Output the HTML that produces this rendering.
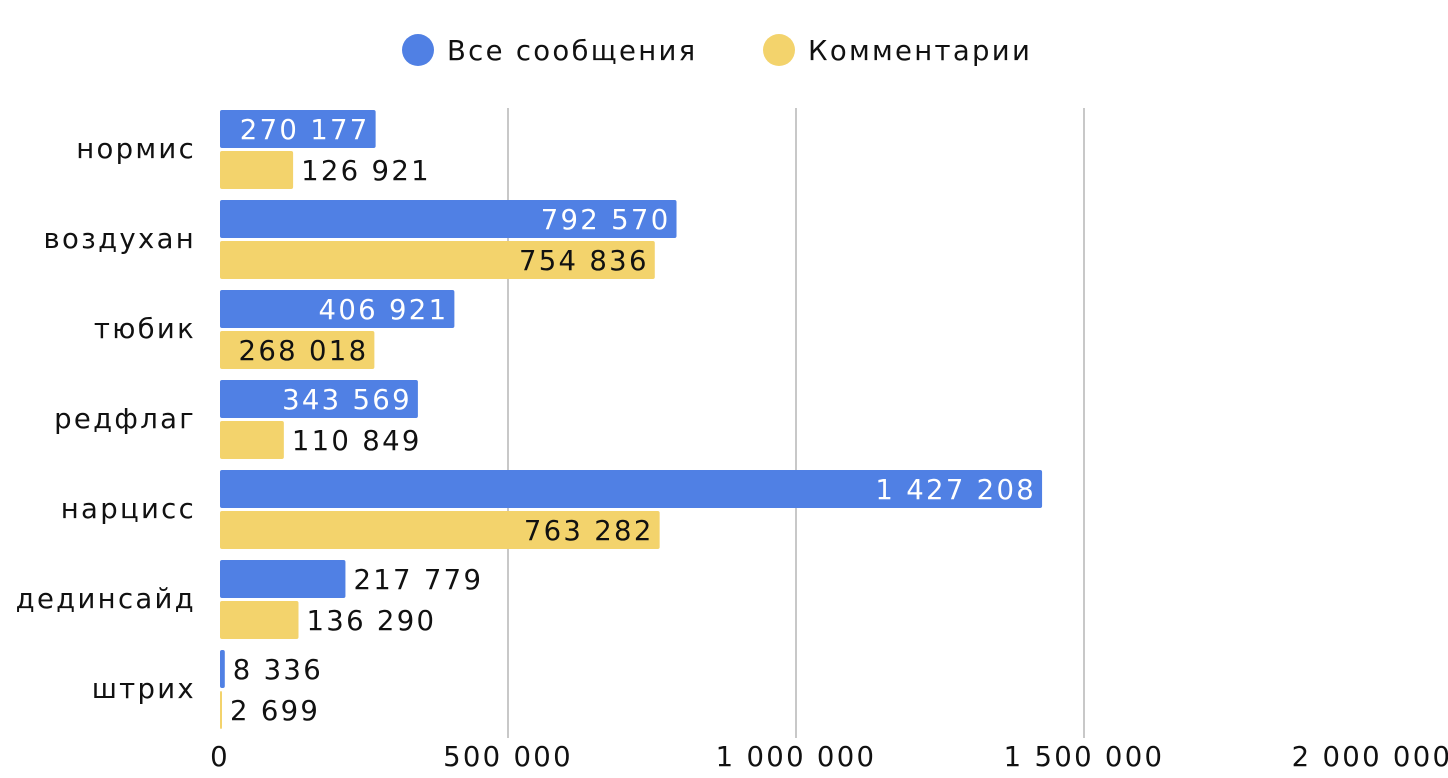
<!DOCTYPE html>
<html><head><meta charset="utf-8"><style>
body{margin:0;background:#fff;}
svg{display:block;font-family:"DejaVu Sans","Liberation Sans",sans-serif;}
svg text{letter-spacing:2.3px;}
</style></head><body>
<svg id="chart" width="1448" height="778"></svg>
<script>
const categories=["нормис","воздухан","тюбик","редфлаг","нарцисс","дединсайд","штрих"];
const allMessages=[270177,792570,406921,343569,1427208,217779,8336];
const comments=[126921,754836,268018,110849,763282,136290,2699];
const ticks=[0,500000,1000000,1500000,2000000];
const tickLabels=["0","500 000","1 000 000","1 500 000","2 000 000"];
const seriesNames=["Все сообщения","Комментарии"];
const colors=["#5080e4","#f3d36c"];
const NS="http://www.w3.org/2000/svg";
const svg=document.getElementById('chart');
const x0=220,pxPer=288/500000,top0=110,pitch=90,bh=38,gap=3;
const xs=v=>x0+v*pxPer;
const FS=27.5, LS=2.3;
function el(t,a,txt){const e=document.createElementNS(NS,t);for(const k in a)e.setAttribute(k,a[k]);if(txt!==undefined)e.textContent=txt;svg.appendChild(e);return e;}
function fmt(v){return String(v).replace(/\B(?=(\d{3})+(?!\d))/g," ");}
ticks.forEach((t,i)=>{
 if(t>0&&t<2000000){const g=el('line',{x1:xs(t),x2:xs(t),y1:108,y2:738,stroke:'#c8c8c8','stroke-width':2});
 
 }
 const l=el('text',{x:xs(t),y:766,'text-anchor':'middle','font-size':FS,fill:'#111'},tickLabels[i]);
 
 
});
[[418,447],[779,808]].forEach((p,i)=>{
 const c=el('circle',{cx:p[0],cy:50,r:16,fill:colors[i]});
 
 
 const t=el('text',{x:p[1],y:60,'font-size':FS,fill:'#111'},seriesNames[i]);
 
 
});
const ctx=document.createElement('canvas').getContext('2d');
ctx.font=FS+'px "DejaVu Sans"';
categories.forEach((c,i)=>{
 const gy=top0+i*pitch;
 const cl=el('text',{x:196,y:gy+48,'text-anchor':'end','font-size':FS,fill:'#111'},c);
 
 
 [allMessages[i],comments[i]].forEach((v,s)=>{
  const y=gy+s*(bh+gap);
  const w=Math.max(v*pxPer,2);
  const r=el('rect',{x:x0,y:y,width:w,height:bh,fill:colors[s],rx:2});
  
  
  const lbl=fmt(v);const lw=ctx.measureText(lbl).width+lbl.length*LS;
  let t;
  if(lw+8<w){t=el('text',{x:x0+w-6,y:y+29,'text-anchor':'end','font-size':FS,fill:s?'#111':'#fff'},lbl);}
  else{t=el('text',{x:x0+w+8,y:y+29,'font-size':FS,fill:'#111'},lbl);}
  
  
 });
});
</script>
</body></html>
